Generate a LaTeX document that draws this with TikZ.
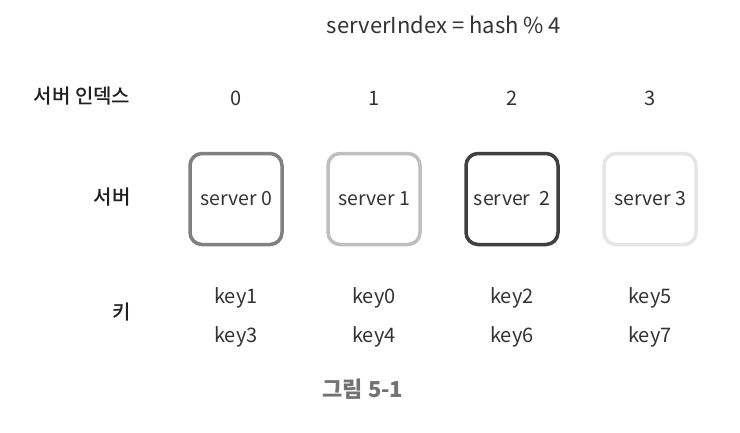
\documentclass[tikz,border=0pt]{standalone}
\usepackage{fontspec}
\setmainfont{Noto Sans CJK KR}
\newfontfamily\korm{Noto Sans CJK KR Medium}
\begin{document}
\begin{tikzpicture}[x=1pt,y=-1pt,
  lbl/.style={font=\fontsize{20}{24}\selectfont, text=black!80, inner sep=0pt},
  kor/.style={font=\fontsize{20}{24}\korm\selectfont, text=black!88, inner sep=0pt},
  srv/.style={draw, line width=3.5pt, rounded corners=12pt, minimum width=92pt, minimum height=91pt, inner sep=0pt, font=\fontsize{19.5}{24}\selectfont, text=black!80}]
\useasboundingbox[fill=white] (0,0) rectangle (740,432);
\node[lbl, font=\fontsize{22}{26}\selectfont] (title) at (444,25) {serverIndex = hash \% 4};
\node[kor] (idxlbl) at (82,96) {서버 인덱스};
\node[lbl] (i0) at (236,98) {0};
\node[lbl] (i1) at (374,98) {1};
\node[lbl] (i2) at (512,98) {2};
\node[lbl] (i3) at (650,98) {3};
\node[kor] (srvlbl) at (112,197) {서버};
\node[srv, draw=black!50] (s0) at (236,199) {server 0};
\node[srv, draw=black!25] (s1) at (374,199) {server 1};
\node[srv, draw=black!75] (s2) at (512,199) {server\ \ 2};
\node[srv, draw=black!10] (s3) at (650,199) {server 3};
\node[kor] (keylbl) at (122,312) {키};
\node[lbl] (k1) at (236,298) {key1};
\node[lbl] (k3) at (236,337) {key3};
\node[lbl] (k0) at (374,298) {key0};
\node[lbl] (k4) at (374,337) {key4};
\node[lbl] (k2) at (512,298) {key2};
\node[lbl] (k6) at (512,337) {key6};
\node[lbl] (k5) at (650,298) {key5};
\node[lbl] (k7) at (650,337) {key7};
\node[inner sep=0pt, font=\fontsize{22}{26}\selectfont\bfseries, text=black!55] (cap) at (363,389) {그림 5-1};
\end{tikzpicture}
\end{document}
